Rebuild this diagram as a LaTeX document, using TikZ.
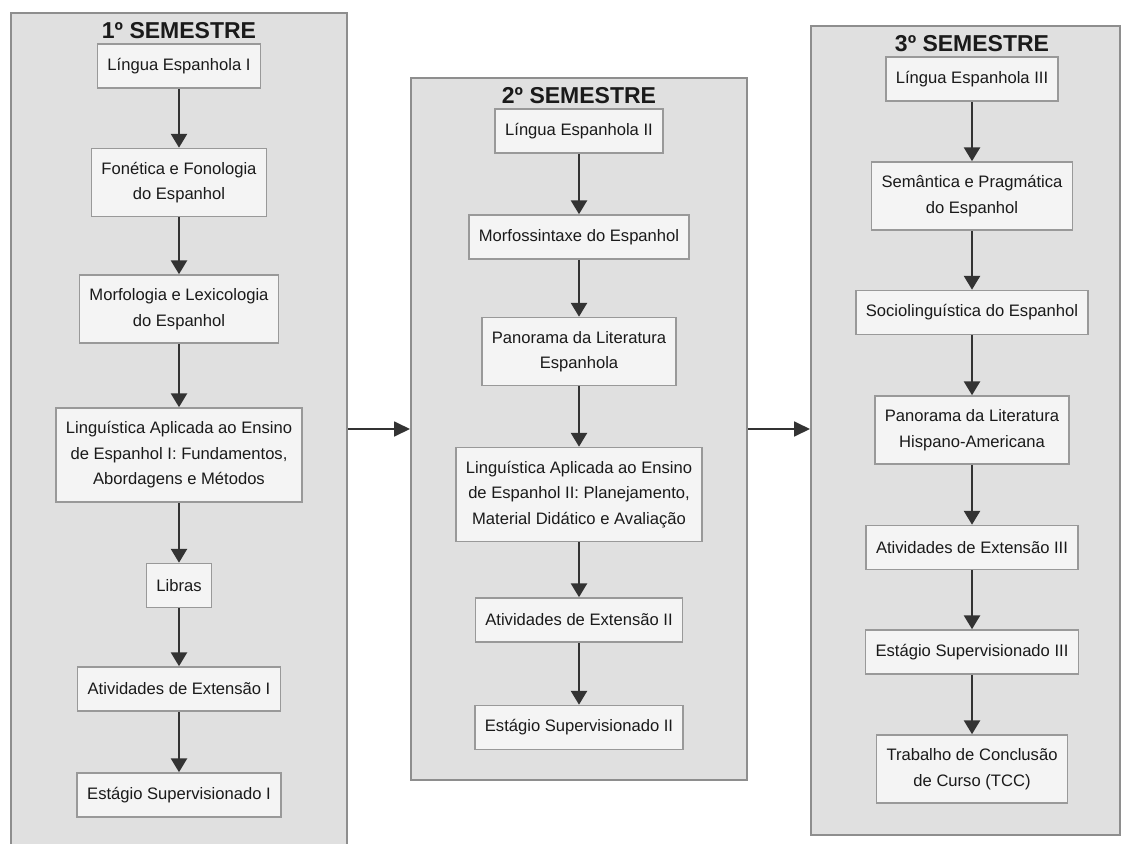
\documentclass[tikz,border=0pt]{standalone}
\usepackage{fontspec}
\setmainfont{Liberation Sans}
\usetikzlibrary{arrows.meta}
\definecolor{colfill}{HTML}{E0E0E0}
\definecolor{colline}{HTML}{8E8E8E}
\definecolor{boxfill}{HTML}{F4F4F4}
\definecolor{boxline}{HTML}{999999}
\definecolor{arrc}{HTML}{333333}
\definecolor{txt}{HTML}{1A1A1A}
\begin{document}
\begin{tikzpicture}[x=1pt,y=-1pt,
  col/.style={draw=colline, fill=colfill, line width=2pt, inner sep=0pt},
  hdr/.style={font=\fontsize{23}{27}\selectfont\bfseries, text=txt, anchor=base, inner sep=0pt},
  box/.style={draw=boxline, fill=boxfill, line width=1.5pt, text=txt, font=\fontsize{16.6}{25.5}\selectfont, align=center, inner xsep=10pt, inner ysep=0pt, minimum height=44pt},
  two/.style={minimum height=68pt},
  three/.style={minimum height=94pt},
  arr/.style={draw=arrc, line width=2.8pt, -{Triangle[length=14pt,width=16pt]}},
  harr/.style={draw=arrc, line width=1.8pt, -{Triangle[length=16pt,width=15pt]}}]
\fill[white] (0,0) rectangle (1123,843);
\useasboundingbox (0,0) rectangle (1123,843);

% columns
\node[col, minimum width=336pt, minimum height=857pt] (col1) at (179,441.5) {};
\node[col, minimum width=336pt, minimum height=702pt] (col2) at (579,429) {};
\node[col, minimum width=309pt, minimum height=809pt] (col3) at (965.5,430.5) {};

% headers
\node[hdr] (h1) at (179,38) {1º SEMESTRE};
\node[hdr] (h2) at (579,103) {2º SEMESTRE};
\node[hdr] (h3) at (972,52) {3º SEMESTRE};

% column 1
\node[box] (a1) at (179,66) {Língua Espanhola I};
\node[box,two] (a2) at (179,182.5) {Fonética e Fonologia\\do Espanhol};
\node[box,two] (a3) at (179,309) {Morfologia e Lexicologia\\do Espanhol};
\node[box,three] (a4) at (179,455) {Linguística Aplicada ao Ensino\\de Espanhol I: Fundamentos,\\Abordagens e Métodos};
\node[box] (a5) at (179,585.5) {Libras};
\node[box] (a6) at (179,689) {Atividades de Extensão I};
\node[box] (a7) at (179,795) {Estágio Supervisionado I};

% column 2
\node[box] (b1) at (579,131) {Língua Espanhola II};
\node[box] (b2) at (579,237) {Morfossintaxe do Espanhol};
\node[box,two] (b3) at (579,351.5) {Panorama da Literatura\\Espanhola};
\node[box,three] (b4) at (579,494.5) {Linguística Aplicada ao Ensino\\de Espanhol II: Planejamento,\\Material Didático e Avaliação};
\node[box] (b5) at (579,620) {Atividades de Extensão II};
\node[box] (b6) at (579,727.5) {Estágio Supervisionado II};

% column 3
\node[box] (c1) at (972,79) {Língua Espanhola III};
\node[box,two] (c2) at (972,196) {Semântica e Pragmática\\do Espanhol};
\node[box] (c3) at (972,312.5) {Sociolinguística do Espanhol};
\node[box,two] (c4) at (972,430) {Panorama da Literatura\\Hispano-Americana};
\node[box] (c5) at (972,547.5) {Atividades de Extensão III};
\node[box] (c6) at (972,652) {Estágio Supervisionado III};
\node[box,two] (c7) at (972,769) {Trabalho de Conclusão\\de Curso (TCC)};

% vertical arrows
\foreach \p/\q in {a1/a2,a2/a3,a3/a4,a4/a5,a5/a6,a6/a7,
                   b1/b2,b2/b3,b3/b4,b4/b5,b5/b6,
                   c1/c2,c2/c3,c3/c4,c4/c5,c5/c6,c6/c7}
  \draw[arr] (\p.south) -- (\q.north);

% horizontal arrows
\coordinate (hy) at (0,429);
\draw[harr] (col1.east |- hy) -- (col2.west |- hy);
\draw[harr] (col2.east |- hy) -- (col3.west |- hy);
\end{tikzpicture}
\end{document}
